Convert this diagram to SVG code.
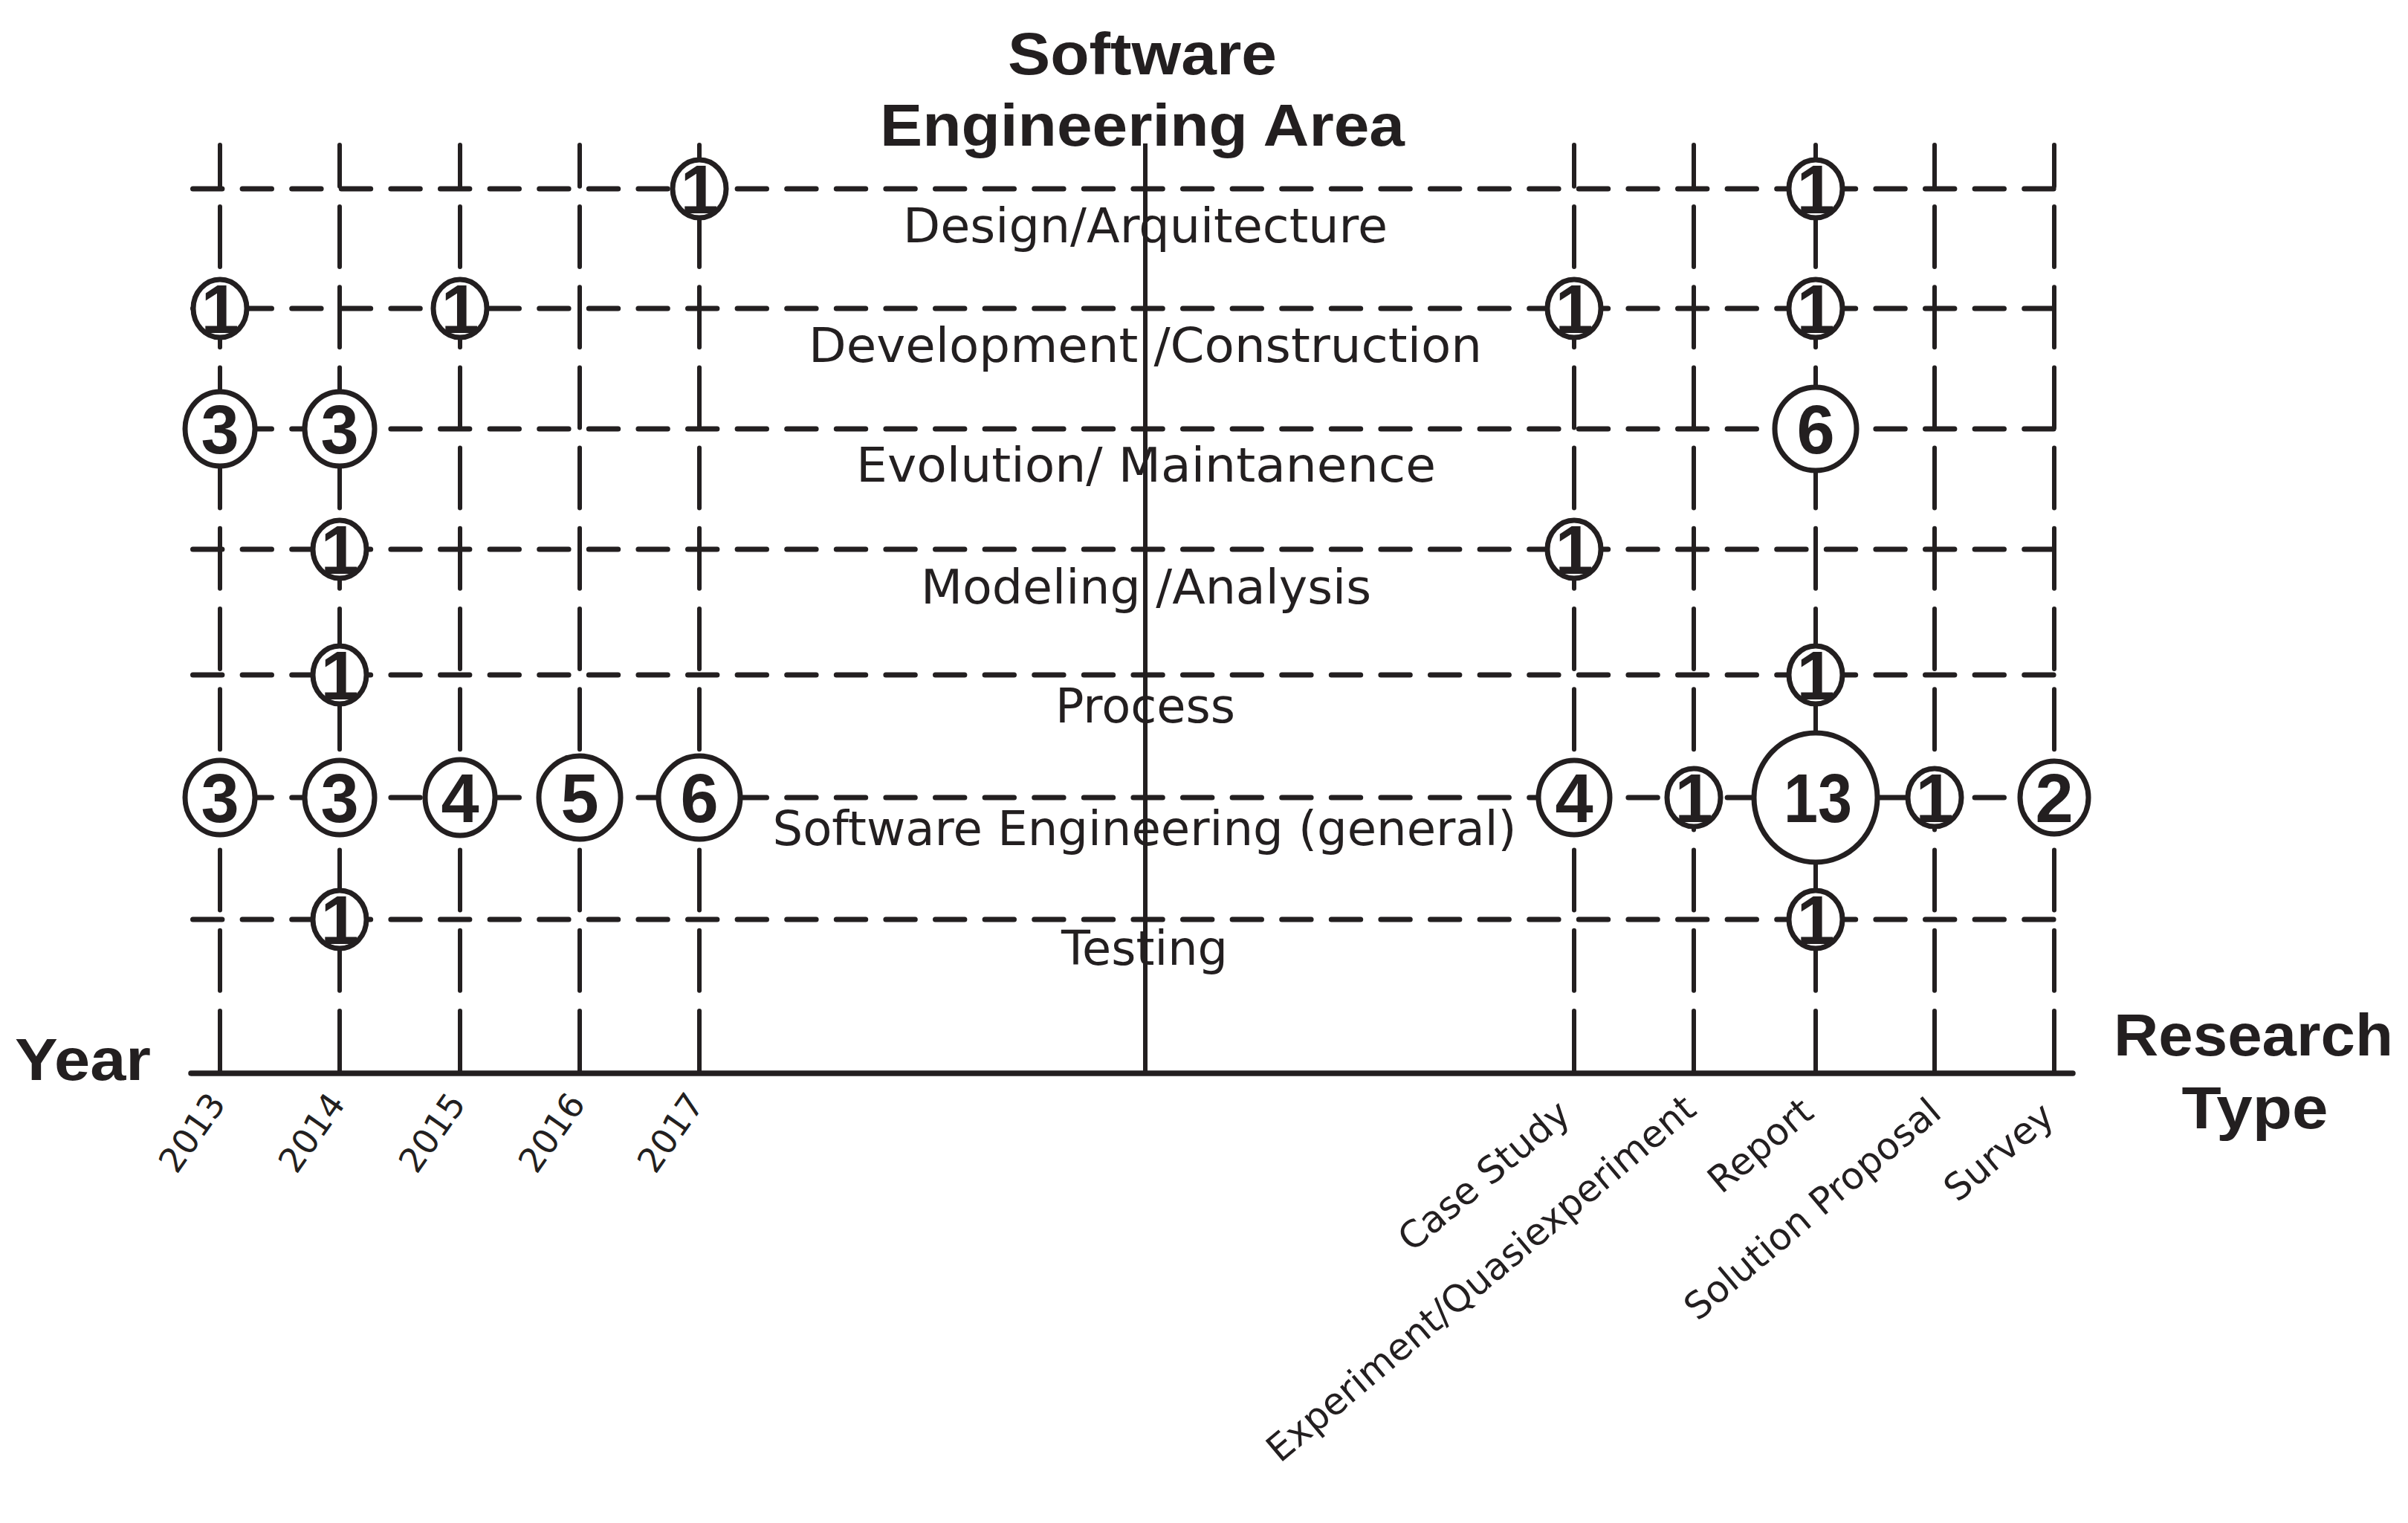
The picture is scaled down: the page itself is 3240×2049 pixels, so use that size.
<svg xmlns="http://www.w3.org/2000/svg" width="3240" height="2049" viewBox="0 0 3240 2049">
<style>
.bg{fill:#ffffff}
.h{stroke:#231f20;stroke-width:7;stroke-linecap:round;stroke-dasharray:39.4 27.2;fill:none}
.v{stroke:#231f20;stroke-width:6;stroke-linecap:round;stroke-dasharray:81 27.2;stroke-dashoffset:25.2;fill:none}
.c{stroke:#231f20;stroke-width:6;fill:none}
.ax{stroke:#231f20;stroke-width:7.5;stroke-linecap:round;fill:none}
.b{fill:#ffffff;stroke:#231f20;stroke-width:7}
.n{font-family:"Liberation Sans",Arial,sans-serif;font-weight:bold;font-size:92px;fill:#231f20;text-anchor:middle}
.t{font-family:"Liberation Sans",Arial,sans-serif;font-weight:bold;font-size:80px;fill:#231f20}
.r{font-family:"DejaVu Sans",sans-serif;font-size:64px;fill:#231f20;text-anchor:middle}
.y{font-family:"DejaVu Sans",sans-serif;font-size:46px;fill:#231f20;text-anchor:end}
.k{font-family:"DejaVu Sans",sans-serif;font-size:50px;fill:#231f20;text-anchor:end}
</style>
<rect class="bg" x="0" y="0" width="3240" height="2049"/>

<g id="labels">
<text class="t" x="1537" y="100" text-anchor="middle" textLength="362" lengthAdjust="spacingAndGlyphs">Software</text>
<text class="t" x="1537" y="196" text-anchor="middle" textLength="706" lengthAdjust="spacingAndGlyphs">Engineering Area</text>
<text class="t" x="20" y="1453" textLength="183" lengthAdjust="spacingAndGlyphs">Year</text>
<text class="t" x="3032" y="1420" text-anchor="middle" textLength="376" lengthAdjust="spacingAndGlyphs">Research</text>
<text class="t" x="3034" y="1518" text-anchor="middle" textLength="197" lengthAdjust="spacingAndGlyphs">Type</text>

<text class="r" x="1541" y="326" textLength="652" lengthAdjust="spacingAndGlyphs">Design/Arquitecture</text>
<text class="r" x="1541" y="487" textLength="906" lengthAdjust="spacingAndGlyphs">Development /Construction</text>
<text class="r" x="1542" y="648" textLength="780" lengthAdjust="spacingAndGlyphs">Evolution/ Maintanence</text>
<text class="r" x="1542" y="812" textLength="606" lengthAdjust="spacingAndGlyphs">Modeling /Analysis</text>
<text class="r" x="1541" y="972" textLength="242" lengthAdjust="spacingAndGlyphs">Process</text>
<text class="r" x="1540" y="1137" textLength="1001" lengthAdjust="spacingAndGlyphs">Software Engineering (general)</text>
<text class="r" x="1540" y="1298" textLength="224" lengthAdjust="spacingAndGlyphs">Testing</text>

<text class="y" transform="translate(305,1485) rotate(-55)">2013</text>
<text class="y" transform="translate(466,1485) rotate(-55)">2014</text>
<text class="y" transform="translate(628,1485) rotate(-55)">2015</text>
<text class="y" transform="translate(789,1485) rotate(-55)">2016</text>
<text class="y" transform="translate(949,1485) rotate(-55)">2017</text>

<text class="k" transform="translate(2116,1504) rotate(-40)">Case Study</text>
<text class="k" transform="translate(2285,1497) rotate(-40)">Experiment/Quasiexperiment</text>
<text class="k" transform="translate(2443,1501) rotate(-40)">Report</text>
<text class="k" transform="translate(2615,1501) rotate(-40)">Solution Proposal</text>
<text class="k" transform="translate(2767,1507) rotate(-40)">Survey</text>
</g>

<g id="connectors">
<line class="h" x1="259.5" y1="254" x2="2766" y2="254"/>
<line class="h" x1="259.5" y1="415" x2="2766" y2="415"/>
<line class="h" x1="259.5" y1="577" x2="2766" y2="577"/>
<line class="h" x1="259.5" y1="739" x2="2766" y2="739"/>
<line class="h" x1="259.5" y1="908" x2="2766" y2="908"/>
<line class="h" x1="259.5" y1="1073" x2="2766" y2="1073"/>
<line class="h" x1="259.5" y1="1237" x2="2766" y2="1237"/>

<line class="v" x1="296" y1="195" x2="296" y2="1444"/>
<line class="v" x1="457" y1="195" x2="457" y2="1444"/>
<line class="v" x1="619" y1="195" x2="619" y2="1444"/>
<line class="v" x1="780" y1="195" x2="780" y2="1444"/>
<line class="v" x1="941" y1="195" x2="941" y2="1444"/>
<line class="v" x1="2118" y1="195" x2="2118" y2="1444"/>
<line class="v" x1="2279" y1="195" x2="2279" y2="1444"/>
<line class="v" x1="2443" y1="195" x2="2443" y2="1444"/>
<line class="v" x1="2603" y1="195" x2="2603" y2="1444"/>
<line class="v" x1="2764" y1="195" x2="2764" y2="1444"/>

<line class="c" x1="1541" y1="193" x2="1541" y2="1444"/>
<line class="ax" x1="257" y1="1444" x2="2789" y2="1444"/>
</g>

<g id="n-design-2017"><ellipse class="b" cx="941" cy="254" rx="36" ry="39"/><text class="n" x="941" y="287">1</text></g>
<g id="n-design-report"><ellipse class="b" cx="2443" cy="254" rx="36" ry="39"/><text class="n" x="2443" y="287">1</text></g>

<g id="n-dev-2013"><ellipse class="b" cx="296" cy="415" rx="36" ry="39"/><text class="n" x="296" y="448">1</text></g>
<g id="n-dev-2015"><ellipse class="b" cx="619" cy="415" rx="36" ry="39"/><text class="n" x="619" y="448">1</text></g>
<g id="n-dev-case"><ellipse class="b" cx="2118" cy="415" rx="36" ry="39"/><text class="n" x="2118" y="448">1</text></g>
<g id="n-dev-report"><ellipse class="b" cx="2443" cy="415" rx="36" ry="39"/><text class="n" x="2443" y="448">1</text></g>

<g id="n-evo-2013"><ellipse class="b" cx="296" cy="577" rx="47" ry="50"/><text class="n" x="296" y="610">3</text></g>
<g id="n-evo-2014"><ellipse class="b" cx="457" cy="577" rx="47" ry="50"/><text class="n" x="457" y="610">3</text></g>
<g id="n-evo-report"><ellipse class="b" cx="2443" cy="577" rx="55" ry="56"/><text class="n" x="2443" y="610">6</text></g>

<g id="n-mod-2014"><ellipse class="b" cx="457" cy="739" rx="36" ry="39"/><text class="n" x="457" y="772">1</text></g>
<g id="n-mod-case"><ellipse class="b" cx="2118" cy="739" rx="36" ry="39"/><text class="n" x="2118" y="772">1</text></g>

<g id="n-proc-2014"><ellipse class="b" cx="457" cy="908" rx="36" ry="39"/><text class="n" x="457" y="941">1</text></g>
<g id="n-proc-report"><ellipse class="b" cx="2443" cy="908" rx="36" ry="39"/><text class="n" x="2443" y="941">1</text></g>

<g id="n-se-2013"><ellipse class="b" cx="296" cy="1073" rx="47" ry="50"/><text class="n" x="296" y="1106">3</text></g>
<g id="n-se-2014"><ellipse class="b" cx="457" cy="1073" rx="47" ry="50"/><text class="n" x="457" y="1106">3</text></g>
<g id="n-se-2015"><ellipse class="b" cx="619" cy="1073" rx="47" ry="51"/><text class="n" x="619" y="1106">4</text></g>
<g id="n-se-2016"><ellipse class="b" cx="780" cy="1073" rx="55" ry="56"/><text class="n" x="780" y="1106">5</text></g>
<g id="n-se-2017"><ellipse class="b" cx="941" cy="1073" rx="55" ry="56"/><text class="n" x="941" y="1106">6</text></g>
<g id="n-se-case"><ellipse class="b" cx="2118" cy="1073" rx="48" ry="50"/><text class="n" x="2118" y="1106">4</text></g>
<g id="n-se-exp"><ellipse class="b" cx="2279" cy="1073" rx="36" ry="39"/><text class="n" x="2279" y="1106">1</text></g>
<g id="n-se-report"><ellipse class="b" cx="2443" cy="1073" rx="83" ry="87"/><text class="n" x="2446" y="1106" textLength="92" lengthAdjust="spacingAndGlyphs">13</text></g>
<g id="n-se-solution"><ellipse class="b" cx="2603" cy="1073" rx="36" ry="39"/><text class="n" x="2603" y="1106">1</text></g>
<g id="n-se-survey"><ellipse class="b" cx="2764" cy="1073" rx="46" ry="49"/><text class="n" x="2764" y="1106">2</text></g>

<g id="n-test-2014"><ellipse class="b" cx="457" cy="1237" rx="36" ry="39"/><text class="n" x="457" y="1270">1</text></g>
<g id="n-test-report"><ellipse class="b" cx="2443" cy="1237" rx="36" ry="39"/><text class="n" x="2443" y="1270">1</text></g>
</svg>
